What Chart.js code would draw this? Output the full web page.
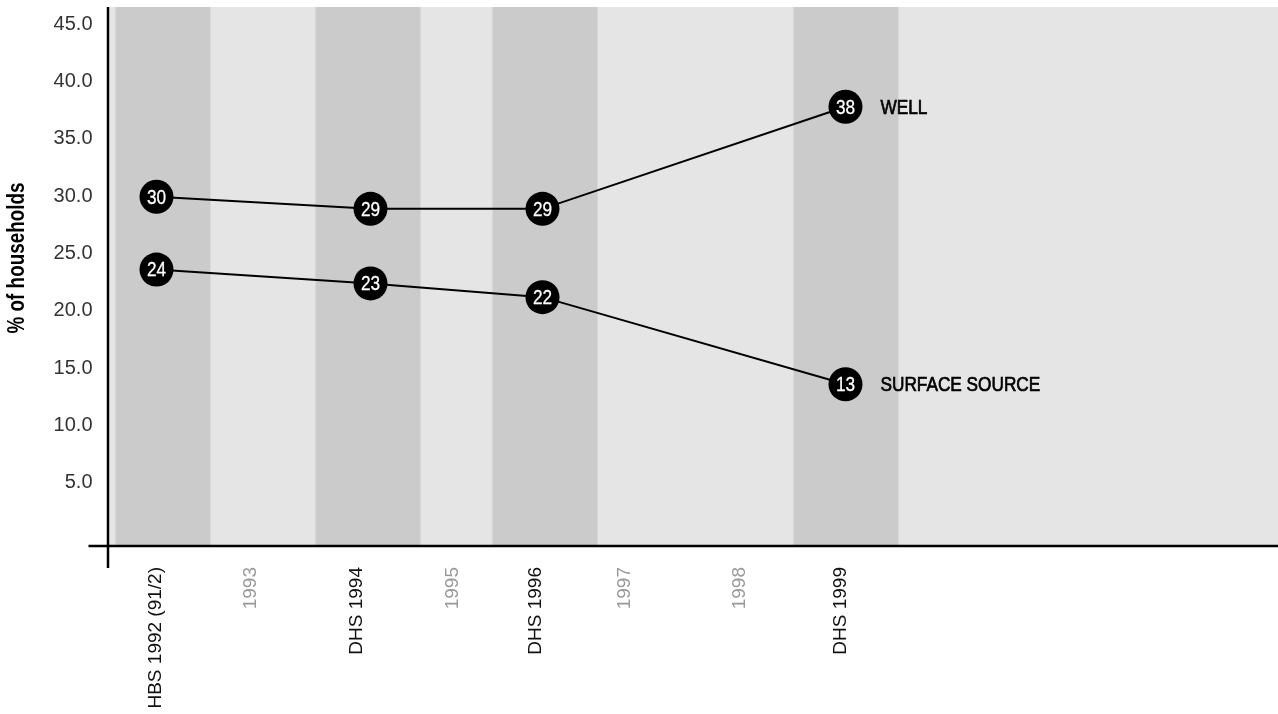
<!DOCTYPE html>
<html>
<head>
<meta charset="utf-8">
<script src="https://cdn.jsdelivr.net/npm/chart.js@4.4.1/dist/chart.umd.min.js"></script>
<style>
  body { margin: 0; background: #fff; overflow: hidden; }
  #wrap { width: 1278px; height: 714px; }
</style>
</head>
<body>
<div id="wrap"><canvas id="waterChart"></canvas></div>
<script>
// x axis labels and where they sit on the time axis (decimal years)
const tickLabels = ["HBS 1992 (91/2)", "1993", "DHS 1994", "1995", "DHS 1996", "1997", "1998", "DHS 1999"];
const tickYears = [1991.98, 1992.93, 1993.99, 1994.95, 1995.78, 1996.67, 1997.82, 1998.83];
const surveyTicks = ["HBS 1992 (91/2)", "DHS 1994", "DHS 1996", "DHS 1999"];

// survey dates used for the points
const surveyYears = [1992.0, 1994.14, 1995.86, 1998.89];

// % of households
const wellValues = [29.95, 28.9, 28.9, 37.8];
const surfaceValues = [23.6, 22.4, 21.2, 13.6];
const wellText = ["30", "29", "29", "38"];
const surfaceText = ["24", "23", "22", "13"];
const seriesNames = ["WELL", "SURFACE SOURCE"];

// shaded survey periods
const bandFrom = [1991.59, 1993.59, 1995.36, 1998.37];
const bandTo = [1992.54, 1994.64, 1996.41, 1999.42];

const yTicks = [5, 10, 15, 20, 25, 30, 35, 40, 45];

const SANS = "'Liberation Sans', Arial, sans-serif";

const toPoints = (vals) => vals.map((v, i) => ({ x: surveyYears[i], y: v }));

// draws text squeezed sideways, like a condensed face
function narrowText(ctx, text, x, y, font, color, align, stroke) {
  ctx.save();
  ctx.translate(x, y);
  ctx.scale(0.82, 1);
  ctx.font = font;
  ctx.fillStyle = color;
  ctx.textAlign = align;
  ctx.textBaseline = "middle";
  ctx.fillText(text, 0, 0);
  if (stroke) {
    ctx.strokeStyle = color;
    ctx.lineWidth = stroke;
    ctx.strokeText(text, 0, 0);
  }
  ctx.restore();
}

// background, bands, axis lines and text labels
const decor = {
  id: "decor",
  beforeDatasetsDraw(chart) {
    const { ctx, chartArea, scales } = chart;
    ctx.save();
    ctx.fillStyle = "#e5e5e5";
    ctx.fillRect(chartArea.left, chartArea.top, chartArea.right - chartArea.left, chartArea.bottom - chartArea.top);
    ctx.fillStyle = "#cbcbcb";
    bandFrom.forEach((b, i) => {
      const x1 = scales.x.getPixelForValue(b);
      const x2 = scales.x.getPixelForValue(bandTo[i]);
      ctx.fillRect(x1, chartArea.top, x2 - x1, chartArea.bottom - chartArea.top);
    });
    ctx.restore();
  },
  afterDraw(chart) {
    const { ctx, chartArea, scales } = chart;
    ctx.save();
    // axis lines
    ctx.strokeStyle = "#000";
    ctx.lineWidth = 2.5;
    ctx.beginPath();
    ctx.moveTo(chartArea.left - 1.5, chartArea.top);
    ctx.lineTo(chartArea.left - 1.5, chartArea.bottom + 22);
    ctx.stroke();
    ctx.beginPath();
    ctx.moveTo(chartArea.left - 21, chartArea.bottom);
    ctx.lineTo(chartArea.right, chartArea.bottom);
    ctx.stroke();

    // x labels, rotated, ending just under the axis
    tickLabels.forEach((lab, i) => {
      const px = scales.x.getPixelForValue(tickYears[i]);
      ctx.save();
      ctx.translate(px, chartArea.bottom + 21);
      ctx.rotate(-Math.PI / 2);
      ctx.font = "19px " + SANS;
      ctx.fillStyle = surveyTicks.includes(lab) ? "#111" : "#999";
      ctx.textAlign = "right";
      ctx.textBaseline = "middle";
      ctx.fillText(lab, 0, 1);
      ctx.restore();
    });

    // numbers inside the circles and series names
    const texts = [wellText, surfaceText];
    chart.data.datasets.forEach((ds, di) => {
      const meta = chart.getDatasetMeta(di);
      meta.data.forEach((pt, i) => {
        narrowText(ctx, texts[di][i], pt.x, pt.y + 1, "21px " + SANS, "#fff", "center", 0.3);
      });
      const last = meta.data[meta.data.length - 1];
      narrowText(ctx, seriesNames[di], last.x + 35, last.y + 1, "21px " + SANS, "#000", "left", 0.7);
    });

    // y axis title
    ctx.translate(18, 258);
    ctx.rotate(-Math.PI / 2);
    narrowText(ctx, "% of households", 0, 0, "bold 23px " + SANS, "#000", "center");
    ctx.restore();
  }
};

const lineStyle = {
  borderColor: "#000",
  borderWidth: 2,
  pointRadius: 17,
  pointHoverRadius: 17,
  pointBackgroundColor: "#000",
  pointBorderColor: "#000",
  pointBorderWidth: 0,
  tension: 0,
  clip: false,
};

new Chart(document.getElementById("waterChart"), {
  type: "line",
  data: {
    datasets: [
      { label: seriesNames[0], data: toPoints(wellValues), ...lineStyle },
      { label: seriesNames[1], data: toPoints(surfaceValues), ...lineStyle },
    ],
  },
  options: {
    responsive: true,
    maintainAspectRatio: false,
    animation: false,
    events: [],
    layout: { autoPadding: false, padding: { top: 7, right: 0, left: 0, bottom: 0 } },
    plugins: { legend: { display: false }, tooltip: { enabled: false } },
    scales: {
      x: {
        type: "linear",
        min: 1991.53,
        max: 2003.215,
        border: { display: false },
        grid: { display: false, drawTicks: false },
        ticks: { display: false },
        afterFit: (scale) => {
          scale.height = 168;
          scale.paddingLeft = 0;
          scale.paddingRight = 0;
        },
      },
      y: {
        min: -0.5,
        max: 46.5,
        border: { display: false },
        grid: { display: false, drawTicks: false },
        afterBuildTicks: (scale) => {
          scale.ticks = yTicks.map((v) => ({ value: v }));
        },
        afterFit: (scale) => {
          scale.width = 109.5;
          scale.paddingTop = 0;
          scale.paddingBottom = 0;
        },
        ticks: {
          padding: 17,
          font: { family: SANS, size: 20 },
          color: "#333",
          callback: (value) => value.toFixed(1),
        },
      },
    },
  },
  plugins: [decor],
});
</script>
</body>
</html>
